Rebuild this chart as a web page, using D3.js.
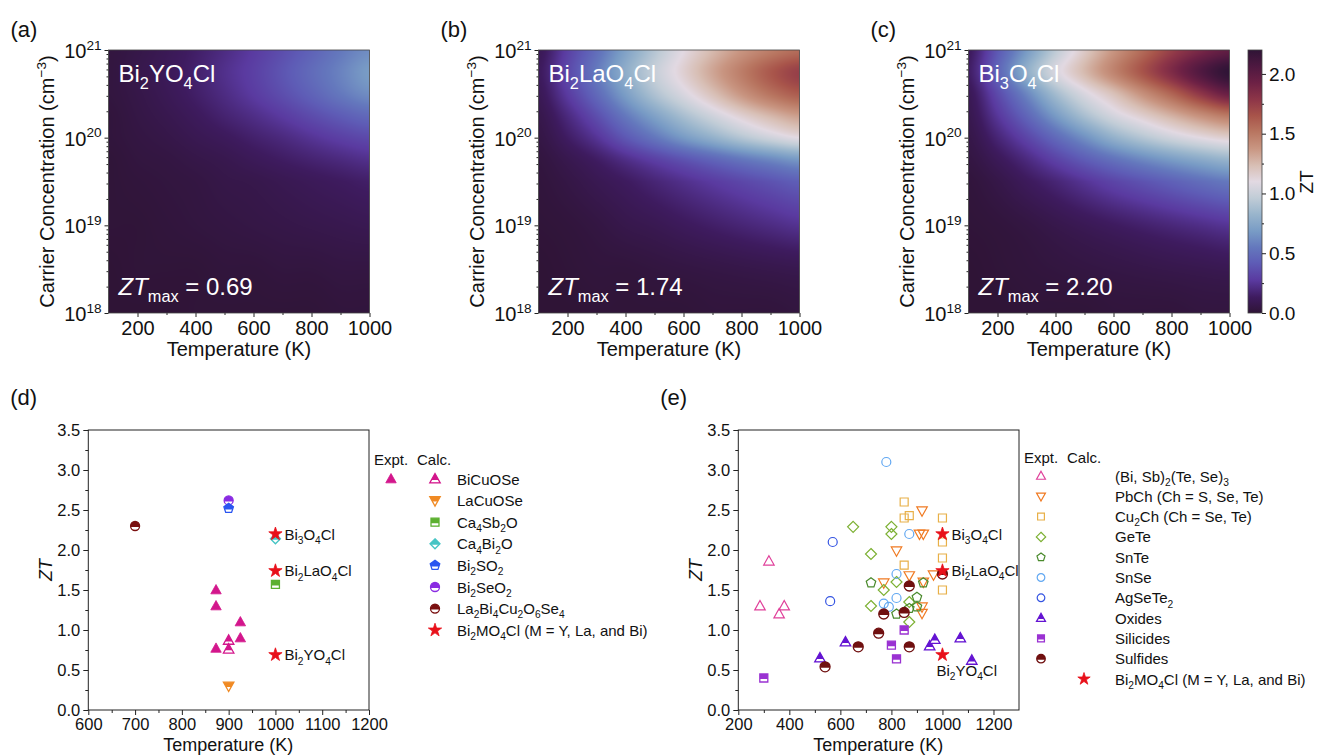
<!DOCTYPE html>
<html>
<head>
<meta charset="utf-8">
<script src="https://cdn.jsdelivr.net/npm/d3@7"></script>
<style>
body { margin: 0; background: #fff; }
svg { display: block; font-family: "Liberation Sans", Arial, sans-serif; }
</style>
</head>
<body>
<svg id="fig" width="1317" height="756"></svg>
<script>
// ---------- heatmap data (ZT) ----------
const hmTemps = [100, 200, 300, 400, 500, 600, 700, 800, 900, 1000];
const hmLogN = [18, 18.5, 19, 19.5, 19.75, 20, 20.25, 20.5, 20.75, 21];
const ztBi2YO4Cl = [
  [0.00, 0.00, 0.00, 0.01, 0.01, 0.01, 0.01, 0.01, 0.02, 0.02],
  [0.00, 0.01, 0.01, 0.01, 0.02, 0.02, 0.03, 0.03, 0.04, 0.04],
  [0.01, 0.01, 0.02, 0.03, 0.04, 0.05, 0.06, 0.07, 0.08, 0.09],
  [0.01, 0.02, 0.03, 0.04, 0.06, 0.07, 0.09, 0.11, 0.13, 0.15],
  [0.01, 0.03, 0.04, 0.06, 0.08, 0.11, 0.14, 0.17, 0.20, 0.23],
  [0.02, 0.04, 0.06, 0.09, 0.12, 0.16, 0.20, 0.25, 0.30, 0.34],
  [0.02, 0.05, 0.08, 0.12, 0.17, 0.22, 0.28, 0.35, 0.42, 0.48],
  [0.03, 0.06, 0.10, 0.15, 0.21, 0.28, 0.36, 0.45, 0.55, 0.63],
  [0.03, 0.07, 0.11, 0.16, 0.23, 0.30, 0.39, 0.49, 0.59, 0.69],
  [0.03, 0.06, 0.10, 0.15, 0.21, 0.28, 0.36, 0.45, 0.55, 0.63]
];
const ztBi2LaO4Cl = [
  [0.00, 0.00, 0.01, 0.01, 0.01, 0.01, 0.02, 0.02, 0.02, 0.03],
  [0.00, 0.01, 0.02, 0.02, 0.03, 0.04, 0.05, 0.06, 0.07, 0.08],
  [0.01, 0.02, 0.04, 0.07, 0.09, 0.12, 0.15, 0.18, 0.21, 0.24],
  [0.02, 0.05, 0.09, 0.13, 0.18, 0.23, 0.28, 0.33, 0.38, 0.43],
  [0.03, 0.08, 0.14, 0.22, 0.30, 0.38, 0.46, 0.54, 0.61, 0.68],
  [0.05, 0.14, 0.25, 0.40, 0.54, 0.68, 0.80, 0.92, 1.02, 1.10],
  [0.07, 0.20, 0.36, 0.55, 0.72, 0.88, 1.02, 1.15, 1.26, 1.35],
  [0.10, 0.28, 0.48, 0.70, 0.90, 1.06, 1.22, 1.38, 1.52, 1.62],
  [0.12, 0.33, 0.55, 0.78, 0.98, 1.15, 1.32, 1.48, 1.63, 1.74],
  [0.10, 0.30, 0.50, 0.72, 0.92, 1.10, 1.25, 1.38, 1.48, 1.55]
];
const ztBi3O4Cl = [
  [0.00, 0.00, 0.01, 0.01, 0.01, 0.02, 0.02, 0.02, 0.03, 0.03],
  [0.00, 0.01, 0.02, 0.03, 0.04, 0.05, 0.06, 0.07, 0.08, 0.09],
  [0.01, 0.02, 0.04, 0.07, 0.10, 0.13, 0.16, 0.19, 0.22, 0.25],
  [0.02, 0.06, 0.12, 0.18, 0.25, 0.32, 0.38, 0.44, 0.50, 0.55],
  [0.04, 0.11, 0.20, 0.31, 0.42, 0.52, 0.61, 0.69, 0.76, 0.82],
  [0.06, 0.18, 0.32, 0.48, 0.64, 0.80, 0.92, 1.02, 1.10, 1.16],
  [0.08, 0.26, 0.46, 0.68, 0.88, 1.04, 1.16, 1.28, 1.40, 1.50],
  [0.10, 0.34, 0.60, 0.86, 1.06, 1.22, 1.40, 1.58, 1.78, 1.95],
  [0.14, 0.45, 0.78, 1.05, 1.25, 1.45, 1.65, 1.85, 2.05, 2.20],
  [0.12, 0.40, 0.68, 0.95, 1.18, 1.38, 1.56, 1.74, 1.88, 1.98]
];
const hmXTicks = [200, 400, 600, 800, 1000];
const hmYTicks = [18, 19, 20, 21];
const cbTicks = [0, 0.5, 1, 1.5, 2];
const cbMax = 2.2;

// twilight_shifted-like colour map
const cmapPos = [0, 0.06, 0.125, 0.19, 0.25, 0.31, 0.375, 0.44, 0.5, 0.56, 0.625, 0.69, 0.75, 0.81, 0.875, 0.94, 1];
const cmapCol = ['#2f1436', '#3e1b5f', '#5a3aa0', '#5e5cb6', '#6478bd', '#789bc5', '#99b5cc', '#c2cdd7', '#e2d9e2',
  '#d8bfb5', '#c99682', '#b87560', '#a8544a', '#8e3648', '#6d2145', '#4d1840', '#2f1436'];

// ---------- panel (d) ----------
const dBiCuOSeExpt = [[873, 1.50], [873, 1.30], [925, 1.10], [925, 0.90], [873, 0.77]];
const dBiCuOSeCalc = [[900, 0.87], [900, 0.76]];
const dLaCuOSe = [[900, 0.30]];
const dCa4Sb2O = [[1000, 1.57]];
const dCa4Bi2O = [[1000, 2.14]];
const dBi2SeO2 = [[900, 2.62]];
const dBi2SO2 = [[900, 2.52]];
const dLa2Bi4Cu2O6Se4 = [[700, 2.30]];
const starsBi2MO4Cl = [[1000, 2.20], [1000, 1.74], [1000, 0.69]];
const starNames = ['Bi_3O_4Cl', 'Bi_2LaO_4Cl', 'Bi_2YO_4Cl'];

// ---------- panel (e) ----------
const eBiSbTeSe = [[320, 1.86], [285, 1.30], [360, 1.20], [380, 1.30]];
const ePbCh = [[920, 2.49], [910, 2.20], [925, 2.20], [820, 1.99], [870, 1.68], [770, 1.59], [965, 1.69], [925, 1.60], [920, 1.29], [920, 1.21]];
const eCu2Ch = [[850, 2.60], [850, 2.40], [870, 2.43], [1000, 2.40], [1000, 2.10], [1000, 1.90], [1000, 1.50], [850, 1.81]];
const eGeTe = [[650, 2.29], [800, 2.29], [800, 2.20], [720, 1.95], [770, 1.50], [820, 1.60], [720, 1.30], [870, 1.10], [870, 1.35]];
const eSnTe = [[720, 1.59], [820, 1.20], [870, 1.27], [900, 1.41], [900, 1.29], [925, 1.59]];
const eSnSe = [[780, 3.10], [870, 2.20], [820, 1.70], [820, 1.40], [770, 1.33], [790, 1.29]];
const eAgSeTe2 = [[570, 2.10], [560, 1.36]];
const eOxides = [[520, 0.65], [620, 0.85], [950, 0.80], [970, 0.88], [1070, 0.90], [1115, 0.62]];
const eSilicides = [[300, 0.40], [800, 0.81], [850, 1.00], [820, 0.64]];
const eSulfides = [[540, 0.54], [670, 0.79], [750, 0.96], [770, 1.20], [850, 1.22], [870, 1.55], [870, 0.79], [1000, 1.70]];

const svg = d3.select('#fig');
const color = d3.scaleLinear().domain(cmapPos.map(t => t * cbMax)).range(cmapCol)
  .interpolate(d3.interpolateRgb).clamp(true);

// text with _sub, ^sup and *italic* parts
function rich(sel, str, size) {
  const re = /_\{([^}]*)\}|_(.)|\^\{([^}]*)\}|\^(.)|\*([^*]*)\*|([^_^*]+)/g;
  let m, shift = 0;
  while ((m = re.exec(str))) {
    let txt, dy = 0, fs = size, it = false;
    if (m[1] !== undefined || m[2] !== undefined) { txt = m[1] !== undefined ? m[1] : m[2]; dy = 0.28 * size; fs = 0.68 * size; }
    else if (m[3] !== undefined || m[4] !== undefined) { txt = m[3] !== undefined ? m[3] : m[4]; dy = -0.42 * size; fs = 0.68 * size; }
    else if (m[5] !== undefined) { txt = m[5]; it = true; }
    else txt = m[6];
    const t = sel.append('tspan').attr('font-size', fs).attr('dy', dy - shift).text(txt);
    if (it) t.attr('font-style', 'italic');
    shift = dy;
  }
  return sel;
}
function label(x, y, str, size, opts) {
  opts = opts || {};
  const t = svg.append('text').attr('x', x).attr('y', y).attr('font-size', size)
    .attr('fill', opts.fill || '#111').attr('text-anchor', opts.anchor || 'start');
  if (opts.rotate) t.attr('x', 0).attr('y', 0).attr('transform', `translate(${x},${y}) rotate(${opts.rotate})`);
  return rich(t, str, size);
}

// ---------- heatmaps ----------
const ti = d3.scaleLinear().domain(hmTemps).range(d3.range(hmTemps.length)).clamp(true);
const ni = d3.scaleLinear().domain(hmLogN).range(d3.range(hmLogN.length)).clamp(true);
function cr(p0, p1, p2, p3, t) {
  return 0.5 * (2 * p1 + (-p0 + p2) * t + (2 * p0 - 5 * p1 + 4 * p2 - p3) * t * t + (-p0 + 3 * p1 - 3 * p2 + p3) * t * t * t);
}
function ztAt(grid, T, ln) {
  const fx = ti(T), fy = ni(ln);
  const nx = hmTemps.length, ny = hmLogN.length;
  const x1 = Math.min(Math.floor(fx), nx - 2), y1 = Math.min(Math.floor(fy), ny - 2);
  const ax = fx - x1, ay = fy - y1;
  const cx = i => Math.max(0, Math.min(nx - 1, i)), cy = j => Math.max(0, Math.min(ny - 1, j));
  const rowVal = j => {
    const r = grid[cy(j)];
    return cr(r[cx(x1 - 1)], r[cx(x1)], r[cx(x1 + 1)], r[cx(x1 + 2)], ax);
  };
  return Math.max(0, cr(rowVal(y1 - 1), rowVal(y1), rowVal(y1 + 1), rowVal(y1 + 2), ay));
}

const hmPanels = [
  { left: 108.5, tag: '(a)', name: 'Bi_2YO_4Cl', zmax: '0.69', grid: ztBi2YO4Cl },
  { left: 538.5, tag: '(b)', name: 'Bi_2LaO_4Cl', zmax: '1.74', grid: ztBi2LaO4Cl },
  { left: 968.5, tag: '(c)', name: 'Bi_3O_4Cl', zmax: '2.20', grid: ztBi3O4Cl }
];
const hmTop = 50, hmBottom = 313, hmW = 261;

hmPanels.forEach(p => {
  const x = d3.scaleLinear().domain([100, 1000]).range([p.left, p.left + hmW]);
  const y = d3.scaleLinear().domain([18, 21]).range([hmBottom, hmTop]);
  const w = hmW, h = hmBottom - hmTop;
  const cv = document.createElement('canvas');
  cv.width = w; cv.height = h;
  const ctx = cv.getContext('2d');
  const img = ctx.createImageData(w, h);
  for (let py = 0; py < h; py++) {
    const ln = y.invert(hmTop + py + 0.5);
    for (let px = 0; px < w; px++) {
      const T = x.invert(p.left + px + 0.5);
      const c = d3.rgb(color(ztAt(p.grid, T, ln)));
      const k = (py * w + px) * 4;
      img.data[k] = c.r; img.data[k + 1] = c.g; img.data[k + 2] = c.b; img.data[k + 3] = 255;
    }
  }
  ctx.putImageData(img, 0, 0);
  svg.append('image').attr('href', cv.toDataURL()).attr('x', p.left).attr('y', hmTop)
    .attr('width', w).attr('height', h).attr('preserveAspectRatio', 'none');

  // axes
  const gx = svg.append('g').attr('transform', `translate(0,${hmBottom})`)
    .call(d3.axisBottom(x).tickValues(hmXTicks).tickSize(4).tickPadding(4).tickFormat(d3.format('d')));
  gx.selectAll('text').attr('font-size', 20).attr('font-family', null).attr('fill', '#111');
  svg.append('g').attr('transform', `translate(0,${hmBottom})`)
    .call(d3.axisBottom(x).tickValues([300, 500, 700, 900]).tickSize(2).tickFormat(''));
  const minor = [];
  for (let e = 18; e < 21; e++) for (let k = 2; k <= 9; k++) minor.push(e + Math.log10(k));
  svg.append('g').attr('transform', `translate(${p.left},0)`)
    .call(d3.axisLeft(y).tickValues(minor).tickSize(2).tickFormat(''));
  svg.append('g').attr('transform', `translate(${p.left},0)`)
    .call(d3.axisLeft(y).tickValues(hmYTicks).tickSize(4).tickFormat(''));
  svg.selectAll('.domain').remove();
  svg.selectAll('.tick line').attr('stroke', '#333');
  hmYTicks.forEach(v => {
    label(p.left - 7, y(v) + 8, '10^{' + v + '}', 20, { anchor: 'end' });
  });
  svg.append('rect').attr('x', p.left).attr('y', hmTop).attr('width', w).attr('height', h)
    .attr('fill', 'none').attr('stroke', '#444').attr('stroke-width', 0.8);

  label(p.left + w / 2, 356, 'Temperature (K)', 20, { anchor: 'middle' });
  label(p.left - 54.5, (hmTop + hmBottom) / 2, 'Carrier Concentration (cm^{−3})', 20, { anchor: 'middle', rotate: -90 });
  label(p.left - 98, 37, p.tag, 22);
  label(p.left + 10, 82, p.name, 24, { fill: '#fff' });
  label(p.left + 10, 295, '*ZT*_{max} = ' + p.zmax, 24, { fill: '#fff' });
});

// colorbar
const cbX = 1248, cbW = 14;
const cbY = d3.scaleLinear().domain([0, cbMax]).range([hmBottom, hmTop]);
const grad = svg.append('defs').append('linearGradient').attr('id', 'cbGrad')
  .attr('x1', 0).attr('y1', 1).attr('x2', 0).attr('y2', 0);
cmapPos.forEach((t, i) => grad.append('stop').attr('offset', t).attr('stop-color', cmapCol[i]));
svg.append('rect').attr('x', cbX).attr('y', hmTop).attr('width', cbW).attr('height', hmBottom - hmTop)
  .attr('fill', 'url(#cbGrad)').attr('stroke', '#444').attr('stroke-width', 0.8);
const gcb = svg.append('g').attr('transform', `translate(${cbX + cbW},0)`)
  .call(d3.axisRight(cbY).tickValues(cbTicks).tickSize(4).tickPadding(3).tickFormat(d3.format('.1f')));
gcb.selectAll('text').attr('font-size', 19).attr('font-family', null).attr('fill', '#111');
svg.append('g').attr('transform', `translate(${cbX + cbW},0)`)
  .call(d3.axisRight(cbY).tickValues([0.25, 0.75, 1.25, 1.75]).tickSize(2).tickFormat(''));
svg.selectAll('.domain').remove();
svg.selectAll('.tick line').attr('stroke', '#333');
label(1313, 182, 'ZT', 19, { anchor: 'middle', rotate: -90 });

// ---------- scatter panels ----------
const clip = svg.select('defs').append('clipPath').attr('id', 'lowerClip');
clip.append('rect').attr('x', -20).attr('y', 1).attr('width', 40).attr('height', 20);

const shapes = {
  triUp: r => `M0,${-r}L${r * 0.95},${r * 0.7}L${-r * 0.95},${r * 0.7}Z`,
  triDown: r => `M0,${r}L${r * 0.95},${-r * 0.7}L${-r * 0.95},${-r * 0.7}Z`,
  square: r => `M${-r * 0.8},${-r * 0.8}H${r * 0.8}V${r * 0.8}H${-r * 0.8}Z`,
  diamond: r => `M0,${-r}L${r},0L0,${r}L${-r},0Z`,
  pentagon: r => d3.range(5).map(k => {
    const a = -Math.PI / 2 + k * 2 * Math.PI / 5;
    return (k ? 'L' : 'M') + (r * Math.cos(a)).toFixed(2) + ',' + (r * Math.sin(a)).toFixed(2);
  }).join('') + 'Z',
  circle: r => d3.symbol(d3.symbolCircle, Math.PI * r * r)(),
  star: r => d3.symbol(d3.symbolStar, r * r / 0.8908)()
};
function marker(g, shape, x, y, r, col, style) {
  const m = g.append('g').attr('transform', `translate(${x},${y})`);
  const d = shapes[shape](r);
  if (style === 'filled') {
    m.append('path').attr('d', d).attr('fill', col).attr('stroke', col).attr('stroke-width', 0.8);
  } else if (style === 'half') {
    m.append('path').attr('d', d).attr('fill', col);
    m.append('path').attr('d', d).attr('fill', '#fff').attr('clip-path', 'url(#lowerClip)');
    m.append('path').attr('d', d).attr('fill', 'none').attr('stroke', col).attr('stroke-width', 1.3);
  } else {
    m.append('path').attr('d', d).attr('fill', 'none').attr('stroke', col).attr('stroke-width', 1.2);
  }
}

function scatterFrame(cfg) {
  const x = d3.scaleLinear().domain(cfg.xDomain).range([cfg.left, cfg.left + 280.7]);
  const y = d3.scaleLinear().domain([0, 3.5]).range([710, 430]);
  const gx = svg.append('g').attr('transform', 'translate(0,710)')
    .call(d3.axisBottom(x).tickValues(cfg.xTicks).tickSize(5).tickPadding(3).tickFormat(d3.format('d')));
  gx.selectAll('text').attr('font-size', 16.5).attr('font-family', null).attr('fill', '#111');
  svg.append('g').attr('transform', 'translate(0,710)')
    .call(d3.axisBottom(x).tickValues(cfg.xMinor).tickSize(3).tickFormat(''));
  const gy = svg.append('g').attr('transform', `translate(${cfg.left},0)`)
    .call(d3.axisLeft(y).tickValues(d3.range(0, 3.51, 0.5)).tickSize(5).tickPadding(3).tickFormat(d3.format('.1f')));
  gy.selectAll('text').attr('font-size', 16.5).attr('font-family', null).attr('fill', '#111');
  svg.append('g').attr('transform', `translate(${cfg.left},0)`)
    .call(d3.axisLeft(y).tickValues(d3.range(0.25, 3.5, 0.5)).tickSize(3).tickFormat(''));
  svg.selectAll('.domain').remove();
  svg.selectAll('.tick line').attr('stroke', '#222');
  svg.append('rect').attr('x', cfg.left).attr('y', 430).attr('width', 280.7).attr('height', 280)
    .attr('fill', 'none').attr('stroke', '#222').attr('stroke-width', 1);
  label(cfg.left + 140, 751, 'Temperature (K)', 18, { anchor: 'middle' });
  label(cfg.left - 36, 570, '*ZT*', 18, { anchor: 'middle', rotate: -90 });
  label(cfg.left - 78, 405, cfg.tag, 22);
  return { x, y, g: svg.append('g') };
}

// (d)
const pd = scatterFrame({ left: 88.3, xDomain: [600, 1200], tag: '(d)',
  xTicks: d3.range(600, 1201, 100), xMinor: d3.range(650, 1200, 100) });
const dSeries = [
  { data: dLa2Bi4Cu2O6Se4, shape: 'circle', col: '#7a1010', style: 'half', r: 4.5 },
  { data: dBi2SeO2, shape: 'circle', col: '#8a2be2', style: 'half', r: 4.5 },
  { data: dBi2SO2, shape: 'pentagon', col: '#2a55f0', style: 'half', r: 5 },
  { data: dCa4Bi2O, shape: 'diamond', col: '#45c4c4', style: 'half', r: 5 },
  { data: dCa4Sb2O, shape: 'square', col: '#5cb030', style: 'half', r: 5 },
  { data: dLaCuOSe, shape: 'triDown', col: '#f08a24', style: 'half', r: 5.5 },
  { data: dBiCuOSeCalc, shape: 'triUp', col: '#d3168c', style: 'half', r: 5.5 },
  { data: dBiCuOSeExpt, shape: 'triUp', col: '#d3168c', style: 'filled', r: 5.5 },
  { data: starsBi2MO4Cl, shape: 'star', col: '#e8101a', style: 'filled', r: 7 }
];
dSeries.forEach(s => s.data.forEach(d => marker(pd.g, s.shape, pd.x(d[0]), pd.y(d[1]), s.r, s.col, s.style)));
starsBi2MO4Cl.forEach((d, i) => label(pd.x(d[0]) + 9, pd.y(d[1]) + 5.5, starNames[i], 15));

const dLegend = [
  { name: 'BiCuOSe', shape: 'triUp', col: '#d3168c', expt: true, r: 5.5 },
  { name: 'LaCuOSe', shape: 'triDown', col: '#f08a24', r: 5.5 },
  { name: 'Ca_4Sb_2O', shape: 'square', col: '#5cb030', r: 5 },
  { name: 'Ca_4Bi_2O', shape: 'diamond', col: '#45c4c4', r: 5 },
  { name: 'Bi_2SO_2', shape: 'pentagon', col: '#2a55f0', r: 5 },
  { name: 'Bi_2SeO_2', shape: 'circle', col: '#8a2be2', r: 4.5 },
  { name: 'La_2Bi_4Cu_2O_6Se_4', shape: 'circle', col: '#7a1010', r: 4.5 },
  { name: 'Bi_2MO_4Cl (M = Y, La, and Bi)', shape: 'star', col: '#e8101a', star: true, r: 7 }
];
label(374, 465, 'Expt.', 15);
label(417, 465, 'Calc.', 15);
dLegend.forEach((it, i) => {
  const yy = 479 + i * 21.6;
  if (it.expt) marker(svg, it.shape, 391, yy, it.r, it.col, 'filled');
  marker(svg, it.shape, 435, yy, it.r, it.col, it.star ? 'filled' : 'half');
  label(457, yy + 5.5, it.name, 15);
});

// (e)
const pe = scatterFrame({ left: 738.3, xDomain: [200, 1300], tag: '(e)',
  xTicks: d3.range(200, 1201, 200), xMinor: d3.range(300, 1300, 200) });
const eSeries = [
  { name: '(Bi, Sb)_2(Te, Se)_3', data: eBiSbTeSe, shape: 'triUp', col: '#e0409a', style: 'open', r: 5.5 },
  { name: 'PbCh (Ch = S, Se, Te)', data: ePbCh, shape: 'triDown', col: '#f07a22', style: 'open', r: 5.5 },
  { name: 'Cu_2Ch (Ch = Se, Te)', data: eCu2Ch, shape: 'square', col: '#e8b048', style: 'open', r: 5 },
  { name: 'GeTe', data: eGeTe, shape: 'diamond', col: '#7cb032', style: 'open', r: 5.5 },
  { name: 'SnTe', data: eSnTe, shape: 'pentagon', col: '#4a8a2c', style: 'open', r: 5 },
  { name: 'SnSe', data: eSnSe, shape: 'circle', col: '#62a8f2', style: 'open', r: 4.5 },
  { name: 'AgSeTe_2', data: eAgSeTe2, shape: 'circle', col: '#3454e2', style: 'open', r: 4.5 },
  { name: 'Oxides', data: eOxides, shape: 'triUp', col: '#6414d2', style: 'half', r: 5.5 },
  { name: 'Silicides', data: eSilicides, shape: 'square', col: '#9a32d2', style: 'half', r: 5 },
  { name: 'Sulfides', data: eSulfides, shape: 'circle', col: '#701010', style: 'half', r: 5 },
  { name: 'Bi_2MO_4Cl (M = Y, La, and Bi)', data: starsBi2MO4Cl, shape: 'star', col: '#e8101a', style: 'filled', r: 7 }
];
eSeries.forEach(s => s.data.forEach(d => marker(pe.g, s.shape, pe.x(d[0]), pe.y(d[1]), s.r, s.col, s.style)));
label(pe.x(1000) + 9, pe.y(2.20) + 5.5, starNames[0], 15);
label(pe.x(1000) + 9, pe.y(1.74) + 5, starNames[1], 15);
label(pe.x(1000) - 6, pe.y(0.69) + 21, starNames[2], 15);

label(1024, 463, 'Expt.', 15);
label(1067, 463, 'Calc.', 15);
eSeries.forEach((s, i) => {
  const yy = 476 + i * 20.3;
  const last = i === eSeries.length - 1;
  marker(svg, s.shape, last ? 1084 : 1041, yy, last ? 6.5 : s.r * 0.85, s.col, s.style);
  label(1115, yy + 5.5, s.name, 15);
});
</script>
</body>
</html>
